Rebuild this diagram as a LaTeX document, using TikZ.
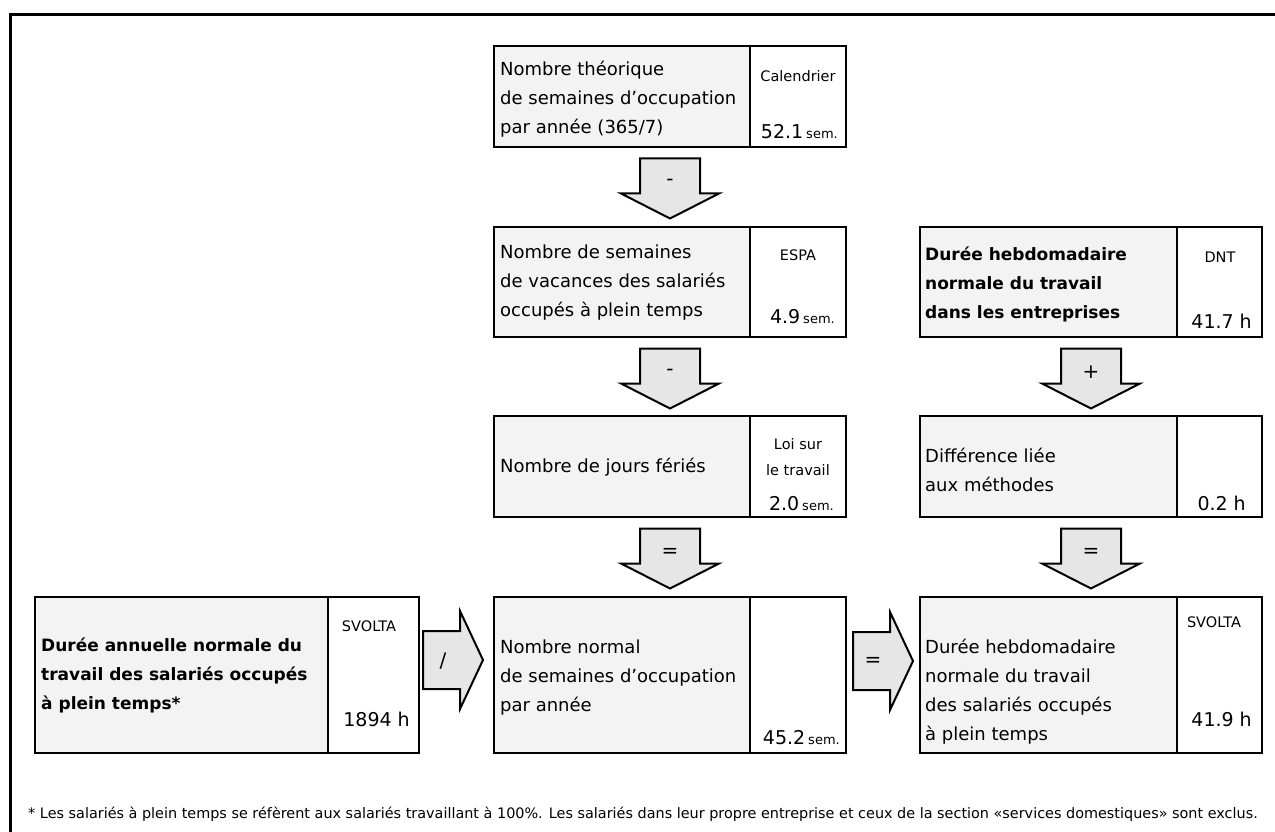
\documentclass[tikz,border=0pt]{standalone}
\usepackage{fontspec}
\setmainfont{DejaVu Sans}
\usetikzlibrary{calc}
\definecolor{cellgray}{HTML}{F3F3F3}
\definecolor{arrowgray}{HTML}{E6E6E6}
\newcommand{\unitsm}[1]{{\fontsize{13}{15}\selectfont #1}}

\tikzset{
  frameline/.style={line width=3pt},
  boxouter/.style={draw, line width=2.6pt, fill=white, anchor=north west, inner sep=0pt, outer sep=0pt},
  boxleft/.style={draw, line width=2.6pt, fill=cellgray, anchor=north west, inner sep=0pt, outer sep=0pt},
  body/.style={font=\fontsize{18}{29}\selectfont, align=left, anchor=west, inner sep=0pt},
  bodybold/.style={font=\fontsize{17}{29}\selectfont\bfseries, align=left, anchor=west, inner sep=0pt},
  srclabel/.style={font=\fontsize{14.5}{26}\selectfont, align=center, inner sep=0pt},
  val/.style={font=\fontsize{19}{22}\selectfont, anchor=base east, inner sep=0pt},
  blockarrow/.style={draw, line width=2pt, fill=arrowgray, line join=miter},
  op/.style={font=\fontsize{20}{20}\selectfont, inner sep=0pt},
  footnote/.style={font=\fontsize{14.4}{16}\selectfont, anchor=base west, inner sep=0pt},
  pics/vdown/.style={code={
    \draw[blockarrow] (-30,0) -- (30,0) -- (30,35) -- (49,35) -- (0,60)
      -- (-49,35) -- (-30,35) -- cycle;
    \node[op] (-sign) at (0,24) {#1};
  }},
  pics/hright/.style={code={
    \draw[blockarrow] (0,-29) -- (37,-29) -- (37,-49) -- (60,0) -- (37,49)
      -- (37,29) -- (0,29) -- cycle;
    \node[op] (-sign) at (20,1) {#1};
  }},
}

\begin{document}
\begin{tikzpicture}[x=1pt, y=-1pt]
\useasboundingbox (0,0) rectangle (1275,832);

% outer frame (top and left edges)
\draw[frameline] (10.5,832) -- (10.5,14.5) -- (1275,14.5);

% ---- left column ----
\node[boxouter, minimum width=352pt, minimum height=101pt] (b1) at (494,46) {};
\node[boxleft,  minimum width=256pt, minimum height=101pt] (b1l) at (494,46) {};
\node[boxouter, minimum width=352pt, minimum height=110pt] (b2) at (494,227) {};
\node[boxleft,  minimum width=256pt, minimum height=110pt] (b2l) at (494,227) {};
\node[boxouter, minimum width=352pt, minimum height=101pt] (b3) at (494,416) {};
\node[boxleft,  minimum width=256pt, minimum height=101pt] (b3l) at (494,416) {};
\node[boxouter, minimum width=352pt, minimum height=156pt] (b4) at (494,597) {};
\node[boxleft,  minimum width=256pt, minimum height=156pt] (b4l) at (494,597) {};

% ---- annual hours box ----
\node[boxouter, minimum width=384pt, minimum height=156pt] (L) at (35,597) {};
\node[boxleft,  minimum width=293pt, minimum height=156pt] (Ll) at (35,597) {};

% ---- right column ----
\node[boxouter, minimum width=342pt, minimum height=110pt] (d1) at (920,227) {};
\node[boxleft,  minimum width=257pt, minimum height=110pt] (d1l) at (920,227) {};
\node[boxouter, minimum width=342pt, minimum height=101pt] (d2) at (920,416) {};
\node[boxleft,  minimum width=257pt, minimum height=101pt] (d2l) at (920,416) {};
\node[boxouter, minimum width=342pt, minimum height=156pt] (d3) at (920,597) {};
\node[boxleft,  minimum width=257pt, minimum height=156pt] (d3l) at (920,597) {};

% ---- descriptions ----
\node[body] (b1t) at (500,99) {Nombre théorique\\de semaines d’occupation\\par année (365/7)};
\node[body] (b2t) at (500,283) {Nombre de semaines\\de vacances des salariés\\occupés à plein temps};
\node[body] (b3t) at (500,467) {Nombre de jours fériés};
\node[body] (b4t) at (500,678) {Nombre normal\\de semaines d’occupation\\par année};
\node[bodybold] (Lt) at (41,675) {Durée annuelle normale du\\travail des salariés occupés\\à plein temps*};
\node[bodybold] (d1t) at (925,284) {Durée hebdomadaire\\normale du travail\\dans les entreprises};
\node[body] (d2t) at (925,470) {Différence liée\\aux méthodes};
\node[body] (d3t) at (925,692) {Durée hebdomadaire\\normale du travail\\des salariés occupés\\à plein temps};

% ---- sources ----
\node[srclabel] (b1s) at (798,76) {Calendrier};
\node[srclabel] (b2s) at (798,255) {ESPA};
\node[srclabel] (b3s) at (798,457) {Loi sur\\le travail};
\node[srclabel] (Ls) at (369,626) {SVOLTA};
\node[srclabel] (d1s) at (1220,257) {DNT};
\node[srclabel] (d3s) at (1214,622) {SVOLTA};

% ---- values ----
\node[val] (b1v) at (838,139) {52.1\hspace{3pt}\unitsm{sem.}};
\node[val] (b2v) at (835,323) {4.9\hspace{3pt}\unitsm{sem.}};
\node[val] (b3v) at (834,510) {2.0\hspace{3pt}\unitsm{sem.}};
\node[val] (b4v) at (840,744) {45.2\hspace{3pt}\unitsm{sem.}};
\node[val] (Lv) at (410,726) {1894 h};
\node[val] (d1v) at (1252,328) {41.7 h};
\node[val] (d2v) at (1246,510) {0.2 h};
\node[val] (d3v) at (1252,726) {41.9 h};

% ---- operators ----
\pic (a1) at ($(b1.south)+(0,11.5)$) {vdown=-};
\pic (a2) at ($(b2.south)+(0,11.5)$) {vdown=-};
\pic (a3) at ($(b3.south)+(0,11.5)$) {vdown={=}};
\pic (a4) at ($(d1.south)+(0,11.5)$) {vdown=+};
\pic (a5) at ($(d2.south)+(0,11.5)$) {vdown={=}};
\pic (a6) at ($(L.north east)+(4,63)$) {hright=/};
\pic (a7) at ($(b4.north east)+(7,64)$) {hright={=}};

% ---- footnote ----
\node[footnote] (note) at (28,818) {* Les salariés à plein temps se réfèrent aux salariés travaillant à 100\%. Les salariés dans leur propre entreprise et ceux de la section «services domestiques» sont exclus.};
\end{tikzpicture}
\end{document}
